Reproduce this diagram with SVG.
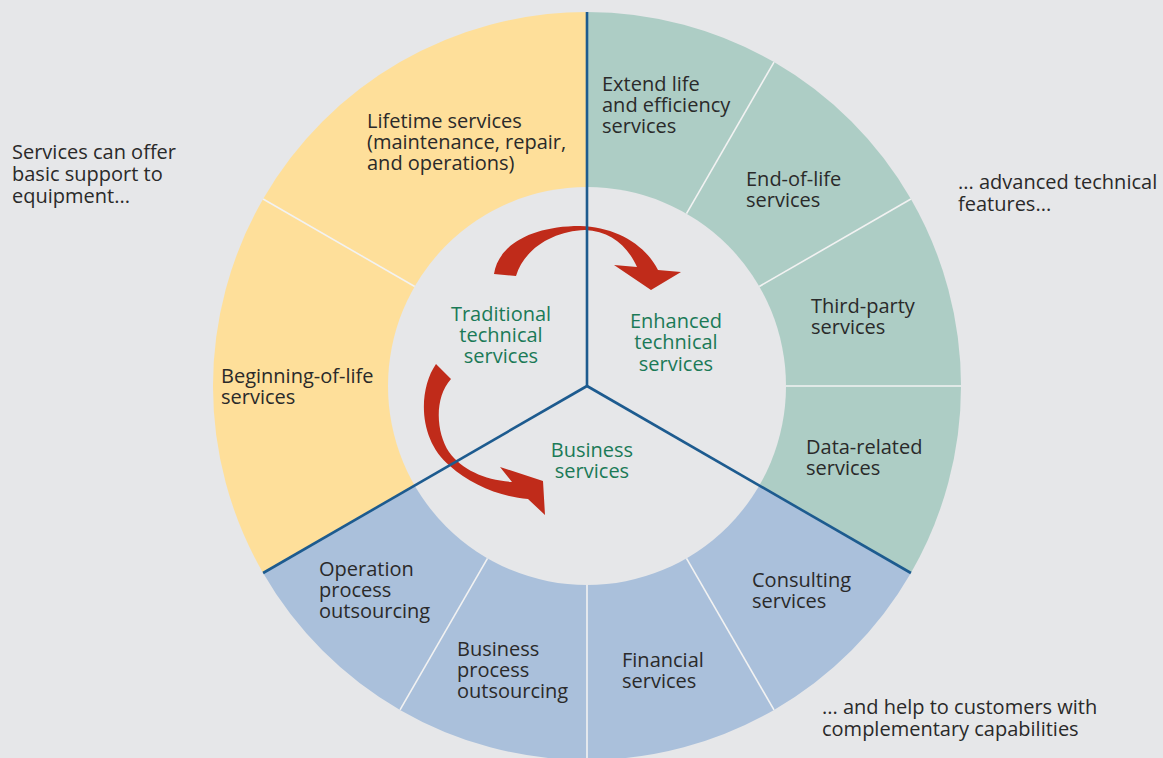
<svg xmlns="http://www.w3.org/2000/svg" width="1163" height="758" viewBox="0 0 1163 758">
<style>
text{font-family:"Open Sans","Noto Sans","Liberation Sans",sans-serif;font-size:20px;fill:#2a2a2a}
.g{fill:#1b7a57}
.c{text-anchor:middle}
.sub{stroke:#f2f2f2;stroke-width:1.6;fill:none}
.div{stroke:#1d5b8f;stroke-width:2.6;fill:none}
.arr{fill:#c02b1a}
</style>
<rect width="1163" height="758" fill="#e6e7e9"/>
<g id="sector-traditional">
<path d="M587,386 L587,12 A374,374 0 0 0 263.1,573 Z" fill="#fedf9a"/>
</g>
<g id="sector-enhanced">
<path d="M587,386 L587,12 A374,374 0 0 1 910.9,573 Z" fill="#adcdc5"/>
</g>
<g id="sector-business">
<path d="M587,386 L910.9,573 A374,374 0 0 1 263.1,573 Z" fill="#aac0db"/>
</g>
<g id="hub">
<circle cx="587" cy="386" r="199" fill="#e6e7e9"/>
</g>
<g id="subdividers">
<line class="sub" x1="414.7" y1="286.5" x2="263.1" y2="199"/>
<line class="sub" x1="686.5" y1="213.7" x2="774" y2="62.1"/>
<line class="sub" x1="759.3" y1="286.5" x2="910.9" y2="199"/>
<line class="sub" x1="786" y1="386" x2="961" y2="386"/>
<line class="sub" x1="686.5" y1="558.3" x2="774" y2="709.9"/>
<line class="sub" x1="587" y1="585" x2="587" y2="760"/>
<line class="sub" x1="487.5" y1="558.3" x2="400" y2="709.9"/>
</g>
<g id="connectors">
<path class="arr" d="M494,274 C498,246 530,226 580,226 C615,227 645,244 658,270 L681,272 L651,290 L614,265 L637,267 C627,245 610,231 585,230 C553,231 524,249 516,276 Z"/>
<path class="arr" d="M436,364 C418,390 418,440 450,466 C470,484 500,497 528,499 L545,515 L543,481 L500,467 L512,482 C485,480 462,470 449,452 C436,432 434,398 451,379 Z"/>
</g>
<g id="main-dividers">
<line class="div" x1="587" y1="386" x2="587" y2="12"/>
<line class="div" x1="587" y1="386" x2="910.9" y2="573"/>
<line class="div" x1="587" y1="386" x2="263.1" y2="573"/>
</g>
<g id="label-traditional"><text class="g c" x="501" y="321">Traditional</text><text class="g c" x="501" y="342">technical</text><text class="g c" x="501" y="363">services</text></g>
<g id="label-enhanced"><text class="g c" x="676" y="328">Enhanced</text><text class="g c" x="676" y="349">technical</text><text class="g c" x="676" y="371">services</text></g>
<g id="label-business"><text class="g c" x="592" y="457">Business</text><text class="g c" x="592" y="478">services</text></g>
<g id="node-lifetime"><text x="367" y="128">Lifetime services</text><text x="367" y="149">(maintenance, repair,</text><text x="367" y="170">and operations)</text></g>
<g id="node-beginning"><text x="221" y="383">Beginning-of-life</text><text x="221" y="404">services</text></g>
<g id="node-extend"><text x="602" y="91">Extend life</text><text x="602" y="112">and efficiency</text><text x="602" y="133">services</text></g>
<g id="node-endoflife"><text x="746" y="186">End-of-life</text><text x="746" y="207">services</text></g>
<g id="node-thirdparty"><text x="811" y="313">Third-party</text><text x="811" y="334">services</text></g>
<g id="node-data"><text x="806" y="454">Data-related</text><text x="806" y="475">services</text></g>
<g id="node-consulting"><text x="752" y="587">Consulting</text><text x="752" y="608">services</text></g>
<g id="node-financial"><text x="622" y="667">Financial</text><text x="622" y="688">services</text></g>
<g id="node-bpo"><text x="457" y="656">Business</text><text x="457" y="677">process</text><text x="457" y="698">outsourcing</text></g>
<g id="node-opo"><text x="319" y="576">Operation</text><text x="319" y="597">process</text><text x="319" y="618">outsourcing</text></g>
<g id="note-basic"><text x="12" y="159">Services can offer</text><text x="12" y="181">basic support to</text><text x="12" y="203">equipment...</text></g>
<g id="note-advanced"><text x="958" y="189">... advanced technical</text><text x="958" y="211">features...</text></g>
<g id="note-help"><text x="822" y="714">... and help to customers with</text><text x="822" y="736">complementary capabilities</text></g>
</svg>
